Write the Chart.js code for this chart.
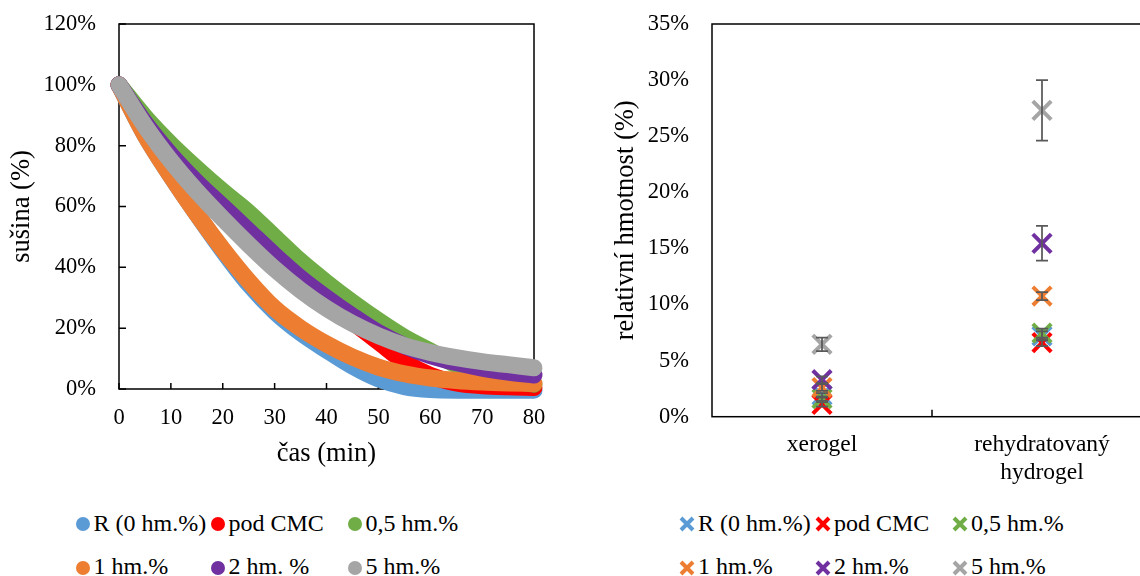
<!DOCTYPE html>
<html>
<head>
<meta charset="utf-8">
<script src="https://cdn.jsdelivr.net/npm/chart.js@4.4.1/dist/chart.umd.min.js"></script>
<style>
  html, body { margin: 0; padding: 0; background: #fff; overflow: hidden; }
  #page { position: relative; width: 1140px; height: 576px; overflow: hidden; background: #fff; }
  #dryCanvas { position: absolute; left: 0; top: 0; }
  #massCanvas { position: absolute; left: 580px; top: 0; }
  .leg-item { position: absolute; white-space: nowrap; font-family: "Liberation Serif", "Times New Roman", serif;
              font-size: 24px; line-height: 28px; color: #000; }
  .leg-mark { position: absolute; }
</style>
</head>
<body>
<div id="page">
  <canvas id="dryCanvas" width="560" height="480"></canvas>
  <canvas id="massCanvas" width="600" height="500"></canvas>
  <div id="legends"></div>
</div>
<script>
// ---- drying curves: dry matter (%) vs. time (min) ----
const timeMin = [0, 5, 10, 15, 20, 25, 30, 35, 40, 45, 50, 55, 60, 65, 70, 75, 80];
const dryR    = [100, 83.5, 70, 57.5, 45.5, 34.5, 25.5, 18.5, 12.8, 7.5, 3.3, 0.8, -0.2, -0.4, -0.4, -0.4, -0.4];
const dryPod  = [100, 87, 76, 66, 57, 48.5, 40.5, 33.5, 27.5, 22, 15.5, 9, 4.5, 2, 1.1, 0.7, 0.5];
const dry05   = [100, 89.5, 80.5, 72.5, 65, 58, 50, 42, 35, 28.5, 22.5, 17, 12.5, 8, 5, 3, 1.6];
const dry1    = [100, 83.5, 70, 57.5, 46, 35.5, 26.5, 20, 14.8, 10.5, 7.2, 5, 3.6, 2.8, 2.3, 2, 1.8];
const dry2    = [100, 87.5, 77, 68, 60, 52, 44, 36.5, 30, 24, 18.5, 14.2, 11, 8.7, 6.9, 5.6, 4.6];
const dry5    = [100, 86.5, 75, 65, 56, 47.5, 39.5, 32.5, 26.5, 21.5, 17.5, 14.3, 12, 10.3, 9, 8, 7];

const dryLabels = ['R (0 hm.%)', 'pod CMC', '0,5 hm.%', '1 hm.%', '2 hm. %', '5 hm.%'];
const massLabels = ['R (0 hm.%)', 'pod CMC', '0,5 hm.%', '1 hm.%', '2 hm.%', '5 hm.%'];
const seriesColors = ['#5B9BD5', '#FF0000', '#70AD47', '#ED7D31', '#7030A0', '#A5A5A5'];

// ---- relative mass (%) of xerogel and rehydrated hydrogel ----
const groups = ['xerogel', ['rehydratovaný', 'hydrogel']];
const massR   = [1.9, 7.2];
const massPod = [1.1, 6.6];
const mass05  = [1.6, 7.45];
const mass1   = [2.6, 10.75];
const mass2   = [3.3, 15.45];
const mass5   = [6.45, 27.3];
const errR    = [0.2, 0.4];
const errPod  = [0.2, 0.3];
const err05   = [0.2, 0.4];
const err1    = [0.3, 0.35];
const err2    = [0.3, 1.55];
const err5    = [0.6, 2.7];

const FONT = '"Liberation Serif", "Times New Roman", serif';

const drySeries = [dryR, dryPod, dry05, dry1, dry2, dry5];
const massSeries = [massR, massPod, mass05, mass1, mass2, mass5];
const massErrors = [errR, errPod, err05, err1, err2, err5];

// plot-area box drawn beneath the data
const frame = {
  id: 'frame',
  beforeDatasetsDraw(chart) {
    const { ctx, chartArea: a } = chart;
    ctx.save();
    ctx.strokeStyle = '#000';
    ctx.lineWidth = 1.5;
    ctx.strokeRect(a.left, a.top, a.right - a.left, a.bottom - a.top);
    ctx.restore();
  }
};

// tick marks pointing into the plot area
const innerTicks = {
  id: 'innerTicks',
  beforeDatasetsDraw(chart) {
    const { ctx, chartArea: a, scales } = chart;
    ctx.save();
    ctx.strokeStyle = '#000';
    ctx.lineWidth = 1.5;
    ctx.beginPath();
    if (chart.config.type === 'scatter') {
      scales.x.ticks.forEach((t, i) => {
        const px = scales.x.getPixelForTick(i);
        ctx.moveTo(px, a.bottom); ctx.lineTo(px, a.bottom - 6);
      });
      scales.y.ticks.forEach((t, i) => {
        const py = scales.y.getPixelForTick(i);
        ctx.moveTo(a.left, py); ctx.lineTo(a.left + 7, py);
      });
    } else {
      const n = scales.x.ticks.length;
      for (let i = 0; i < n - 1; i++) {
        const px = (scales.x.getPixelForValue(i) + scales.x.getPixelForValue(i + 1)) / 2;
        ctx.moveTo(px, a.bottom); ctx.lineTo(px, a.bottom - 7);
      }
    }
    ctx.stroke();
    ctx.restore();
  }
};

// vertical error bars with caps
const errorBars = {
  id: 'errorBars',
  afterDatasetsDraw(chart) {
    const { ctx, scales: { x, y } } = chart;
    ctx.save();
    ctx.strokeStyle = '#595959';
    ctx.lineWidth = 1.75;
    massSeries.forEach((vals, si) => {
      vals.forEach((v, ci) => {
        const e = massErrors[si][ci];
        const px = x.getPixelForValue(ci);
        const top = y.getPixelForValue(v + e);
        const bot = y.getPixelForValue(v - e);
        ctx.beginPath();
        ctx.moveTo(px, top); ctx.lineTo(px, bot);
        ctx.moveTo(px - 6, top); ctx.lineTo(px + 6, top);
        ctx.moveTo(px - 6, bot); ctx.lineTo(px + 6, bot);
        ctx.stroke();
      });
    });
    ctx.restore();
  }
};

// fixed axis box sizes; label overhang is handled by the layout padding
const fixedWidth = w => s => { s.width = w; s.paddingTop = 0; s.paddingBottom = 0; };
const fixedHeight = h => s => { s.height = h; s.paddingLeft = 0; s.paddingRight = 0; };

// nudge the layout padding until the plot area sits where it should
function placePlotArea(chart, target) {
  const p = chart.config.options.layout.padding;
  for (let k = 0; k < 6; k++) {
    const a = chart.chartArea;
    const dTop = target.top - a.top;
    const dRight = a.right - target.right;
    if (Math.abs(dTop) < 0.2 && Math.abs(dRight) < 0.2) break;
    p.top += dTop;
    p.right += dRight;
    chart.update();
  }
}

const tickFont = { family: FONT, size: 22.5 };
const titleFont = { family: FONT, size: 26.5 };

const dryChart = new Chart(document.getElementById('dryCanvas'), {
  type: 'scatter',
  data: {
    datasets: drySeries.map((vals, i) => ({
      label: dryLabels[i],
      data: timeMin.map((t, k) => ({ x: t, y: vals[k] })),
      order: drySeries.length - i,
      showLine: true,
      borderColor: seriesColors[i],
      backgroundColor: seriesColors[i],
      borderWidth: 17,
      borderCapStyle: 'round',
      borderJoinStyle: 'round',
      cubicInterpolationMode: 'monotone',
      pointRadius: 0,
      pointHoverRadius: 0,
      clip: false
    }))
  },
  options: {
    responsive: false,
    animation: false,
    events: [],
    layout: { padding: { top: 24, right: 26, left: 0, bottom: 0 } },
    plugins: { legend: { display: false }, tooltip: { enabled: false } },
    scales: {
      x: {
        type: 'linear', min: 0, max: 80,
        border: { display: false },
        grid: { display: false, drawTicks: false },
        ticks: { stepSize: 10, color: '#000', font: tickFont, padding: 16, maxRotation: 0 },
        title: { display: true, text: 'čas (min)', color: '#000', font: titleFont, padding: { top: 0, bottom: 10 } },
        afterFit: fixedHeight(91)
      },
      y: {
        type: 'linear', min: 0, max: 120,
        border: { display: false },
        grid: { display: false, drawTicks: false },
        ticks: { stepSize: 20, color: '#000', font: tickFont, padding: 23, callback: v => v + '%' },
        title: { display: true, text: 'sušina (%)', color: '#000', font: titleFont, padding: { top: 6, bottom: 0 } },
        afterFit: fixedWidth(119)
      }
    }
  },
  plugins: [frame, innerTicks]
});
placePlotArea(dryChart, { top: 24, right: 534 });

const massChart = new Chart(document.getElementById('massCanvas'), {
  type: 'line',
  data: {
    labels: groups,
    datasets: massSeries.map((vals, i) => ({
      label: massLabels[i],
      data: vals,
      order: massSeries.length - i,
      showLine: false,
      pointStyle: 'crossRot',
      pointRadius: 13,
      pointHoverRadius: 13,
      pointBorderWidth: 4,
      borderColor: seriesColors[i],
      backgroundColor: seriesColors[i],
      clip: false
    }))
  },
  options: {
    responsive: false,
    animation: false,
    events: [],
    layout: { padding: { top: 24, right: 28, left: 0, bottom: 0 } },
    plugins: { legend: { display: false }, tooltip: { enabled: false } },
    scales: {
      x: {
        type: 'category', offset: true,
        border: { display: false },
        grid: { display: false, drawTicks: false, offset: true },
        ticks: { color: '#000', font: { family: FONT, size: 23.5 }, padding: 14, maxRotation: 0, autoSkip: false },
        afterFit: fixedHeight(83.3)
      },
      y: {
        type: 'linear', min: 0, max: 35,
        border: { display: false },
        grid: { display: false, drawTicks: false },
        ticks: { stepSize: 5, color: '#000', font: tickFont, padding: 23, callback: v => v + '%' },
        title: { display: true, text: 'relativní hmotnost (%)', color: '#000', font: titleFont, padding: { top: 30, bottom: 0 } },
        afterFit: fixedWidth(132)
      }
    }
  },
  plugins: [frame, innerTicks, errorBars]
});
placePlotArea(massChart, { top: 24, right: 572 });

// ---- legends below each chart (3 columns x 2 rows) ----
function markerSvg(kind, color) {
  const s = 18;
  if (kind === 'circle') {
    return `<svg width="${s}" height="${s}"><circle cx="9" cy="9" r="7" fill="${color}"/></svg>`;
  }
  return `<svg width="${s}" height="${s}"><path d="M3 3 L15 15 M15 3 L3 15" stroke="${color}" stroke-width="4"/></svg>`;
}
function buildLegend(labels, kind, colX, rowY, baseY, textGap) {
  const host = document.getElementById('legends');
  labels.forEach((lab, i) => {
    const col = i % 3, row = Math.floor(i / 3);
    const cx = colX[col], cy = rowY[row];
    const m = document.createElement('div');
    m.className = 'leg-mark';
    m.style.left = (cx - 9) + 'px';
    m.style.top = (cy - 9) + 'px';
    m.innerHTML = markerSvg(kind, seriesColors[i]);
    host.appendChild(m);
    const t = document.createElement('div');
    t.className = 'leg-item';
    t.style.left = (cx + textGap) + 'px';
    t.style.top = (baseY[row] - 22.1) + 'px';
    t.textContent = lab;
    host.appendChild(t);
  });
}
buildLegend(dryLabels, 'circle', [83, 218, 355], [524, 567.5], [531.5, 574], 10.5);
buildLegend(massLabels, 'cross', [687, 823, 960], [524, 567.5], [531.5, 574], 11);
</script>
</body>
</html>
